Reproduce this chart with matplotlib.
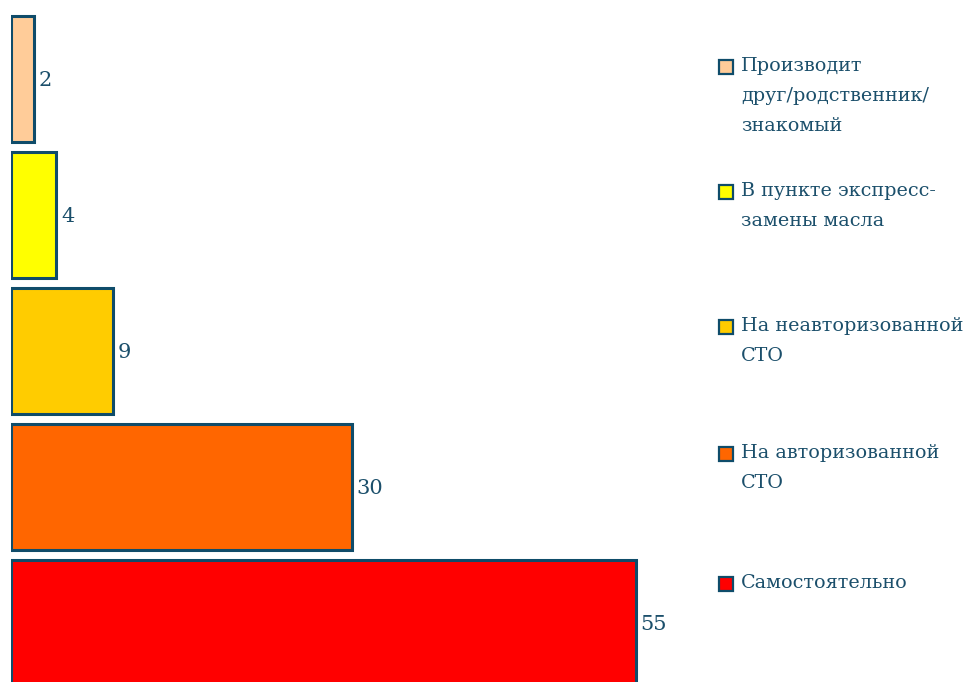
import matplotlib.pyplot as plt
from matplotlib.patches import Rectangle

# Где производится замена масла (доля ответов, %)
categories = ["Самостоятельно", "На авторизованной\nСТО", "На неавторизованной\nСТО",
              "В пункте экспресс-\nзамены масла", "Производит\nдруг/родственник/\nзнакомый"]
values = [55, 30, 9, 4, 2]
colors = ["#FF0000", "#FF6600", "#FFCC00", "#FFFF00", "#FFCC99"]

text_color = "#1B4F6B"
edge_color = "#0F4C6A"

fig = plt.figure(figsize=(9.68, 6.82), dpi=100)
ax = fig.add_axes([11 / 968, 0, 679 / 968, 1])

ypos = range(len(values))
ax.barh(ypos, values, height=0.926, color=colors, edgecolor=edge_color, linewidth=2.2)
for y, v in zip(ypos, values):
    ax.text(v + 0.4, y - 0.01, str(v), va="center", ha="left", fontsize=15,
            family="DejaVu Serif", color=text_color)

ax.set_xlim(0, 59.75)
ax.set_ylim(-0.4335, 4.578)
ax.axis("off")

# легенда справа, квадрат на уровне первой строки подписи
legend_y = [583, 453, 326, 191, 66]
for label, c, yp in zip(categories, colors, legend_y):
    fig.patches.append(Rectangle((719 / 968, 1 - (yp + 8) / 682), 14 / 968, 14 / 682,
                                 transform=fig.transFigure, facecolor=c,
                                 edgecolor=edge_color, linewidth=1.6))
    fig.text(741 / 968, 1 - (yp - 9) / 682, label, va="top", ha="left",
             fontsize=13.8, family="DejaVu Serif", color=text_color, linespacing=1.85)

fig.savefig("out.png", dpi=100)
